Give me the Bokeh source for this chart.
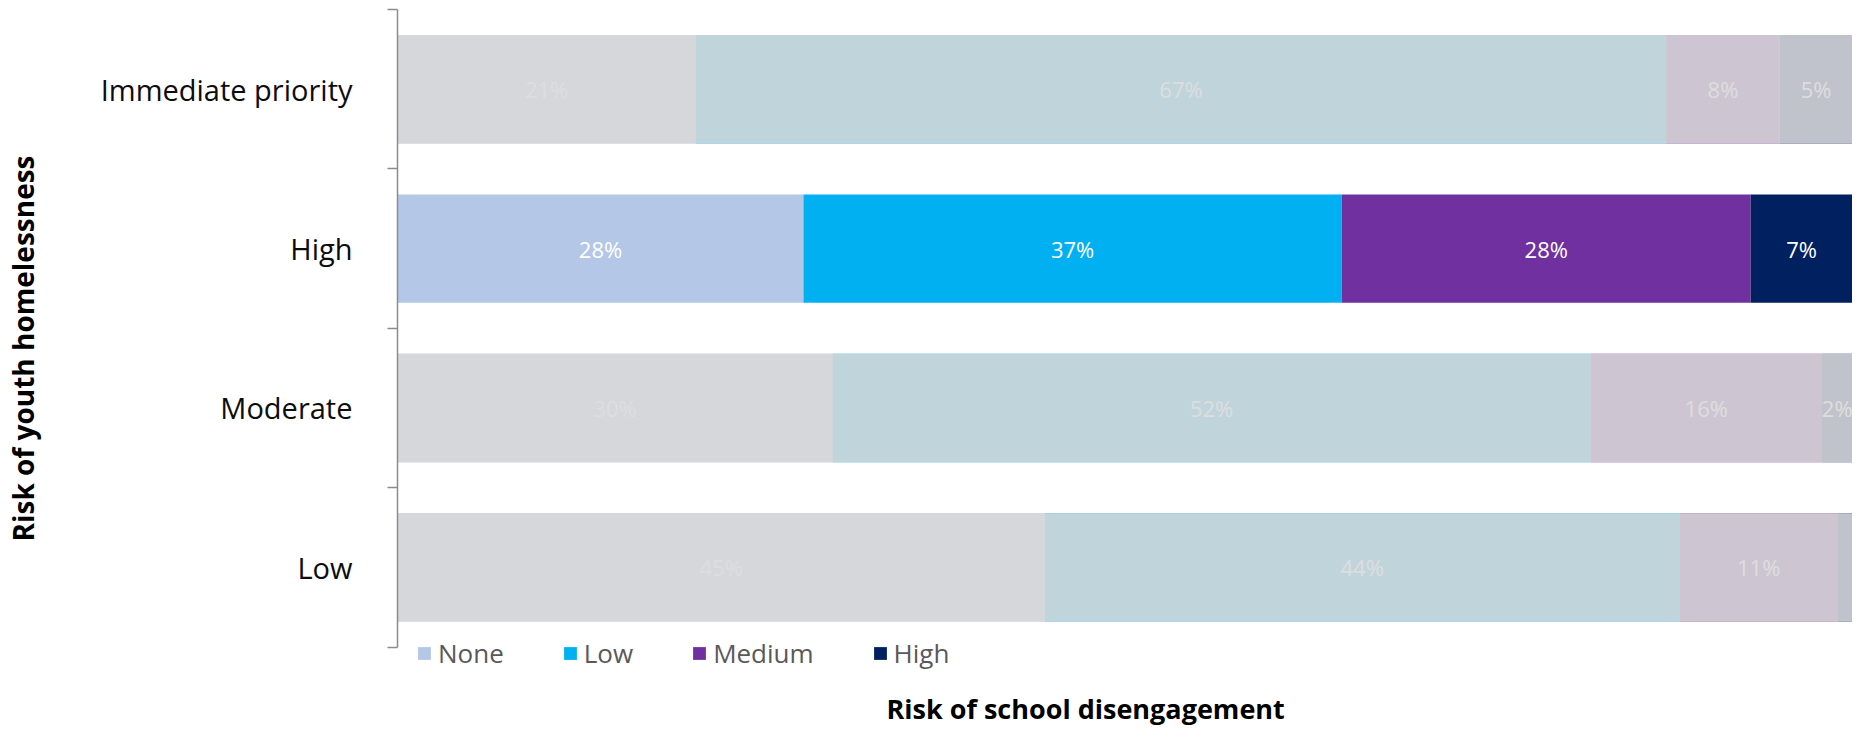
from bokeh.plotting import figure
from bokeh.models import Range1d, FixedTicker, Legend, LegendItem, Title
from bokeh.embed import file_html
from bokeh.resources import INLINE
from bokeh.core.properties import value

# ---- data (bottom to top) ----
categories = ["Low", "Moderate", "High", "Immediate priority"]
series_names = ["None", "Low", "Medium", "High"]
none_vals = [44.5, 29.9, 27.9, 20.5]
low_vals = [43.6, 52.1, 37.0, 66.7]
medium_vals = [10.9, 15.9, 28.1, 7.8]
high_vals = [1.0, 2.1, 7.0, 5.0]
none_labels = ["45%", "30%", "28%", "21%"]
low_labels = ["44%", "52%", "37%", "67%"]
medium_labels = ["11%", "16%", "28%", "8%"]
high_labels = ["", "2%", "7%", "5%"]
highlighted = "High"
x_title = "Risk of school disengagement"
y_title = "Risk of youth homelessness"

# ---- styles ----
colors = ["#b4c7e7", "#00b0f0", "#7030a0", "#002060"]
FONT = "Open Sans"
BAR_H = 0.68

series_vals = [none_vals, low_vals, medium_vals, high_vals]
series_labels = [none_labels, low_labels, medium_labels, high_labels]

n = len(categories)
ys = [i + 0.5 for i in range(n)]

p = figure(width=1852, height=726,
           x_range=Range1d(0, 100), y_range=Range1d(-0.2536, n),
           output_backend="svg", toolbar_location=None,
           x_axis_location=None,
           min_border_left=396, min_border_right=0,
           min_border_top=9, min_border_bottom=36)
p.outline_line_color = None
p.xgrid.grid_line_color = None
p.ygrid.grid_line_color = None
p.background_fill_color = "white"
p.border_fill_color = "white"

lefts = [0.0] * n
renderers = []
text_x, text_y, text_s = [], [], []
for vals, labs, col in zip(series_vals, series_labels, colors):
    rights = [l + v for l, v in zip(lefts, vals)]
    r = p.hbar(y=ys, left=lefts, right=rights, height=BAR_H,
               fill_color=col, line_color=None)
    renderers.append(r)
    for l, rr, y, t in zip(lefts, rights, ys, labs):
        if t:
            text_x.append((l + rr) / 2)
            text_y.append(y)
            text_s.append(t)
    lefts = rights

p.text(x=text_x, y=text_y, text=text_s, text_color="white",
       text_align="center", text_baseline="middle",
       text_font=value(FONT), text_font_size="22px")

# fade overlay on non-highlighted rows
fade_y = [y for y, c in zip(ys, categories) if c != highlighted]
fade_r = [t for t, c in zip(lefts, categories) if c != highlighted]
p.hbar(y=fade_y, left=0, right=fade_r, height=BAR_H,
       fill_color="#d9d9d9", fill_alpha=0.885, line_color=None)

# legend
legend = Legend(items=[LegendItem(label=s, renderers=[r]) for s, r in zip(series_names, renderers)],
                orientation="horizontal", location=(19, 16),
                glyph_width=16, glyph_height=16, label_standoff=6, spacing=58,
                padding=0, margin=0, border_line_color=None,
                background_fill_alpha=0,
                label_text_font=FONT, label_text_font_size="26px",
                label_text_color="#595959")
p.add_layout(legend)

# y axis
yax = p.yaxis[0]
yax.bounds = (0, n)
yax.ticker = FixedTicker(ticks=ys, minor_ticks=list(range(n + 1)))
yax.major_label_overrides = {y: c for y, c in zip(ys, categories)}
yax.major_tick_out = 0
yax.major_tick_in = 0
yax.minor_tick_out = 10
yax.minor_tick_in = 0
yax.minor_tick_line_color = "#8c8c8c"
yax.minor_tick_line_width = 1.5
yax.axis_line_color = "#8c8c8c"
yax.axis_line_width = 1.5
yax.major_label_standoff = 35
yax.major_label_text_font = FONT
yax.major_label_text_font_size = "29px"
yax.major_label_text_color = "#0d0d0d"
yax.axis_label = y_title
yax.axis_label_text_font = FONT
yax.axis_label_text_font_style = "bold"
yax.axis_label_text_font_size = "28px"
yax.axis_label_text_color = "#000000"
yax.axis_label_standoff = 56

# x title
p.add_layout(Title(text=x_title, align="left", offset=489, standoff=0,
                   text_font=FONT, text_font_style="bold",
                   text_font_size="27px", text_color="#000000"), "below")

open("out.html", "w").write(file_html(p, INLINE))
